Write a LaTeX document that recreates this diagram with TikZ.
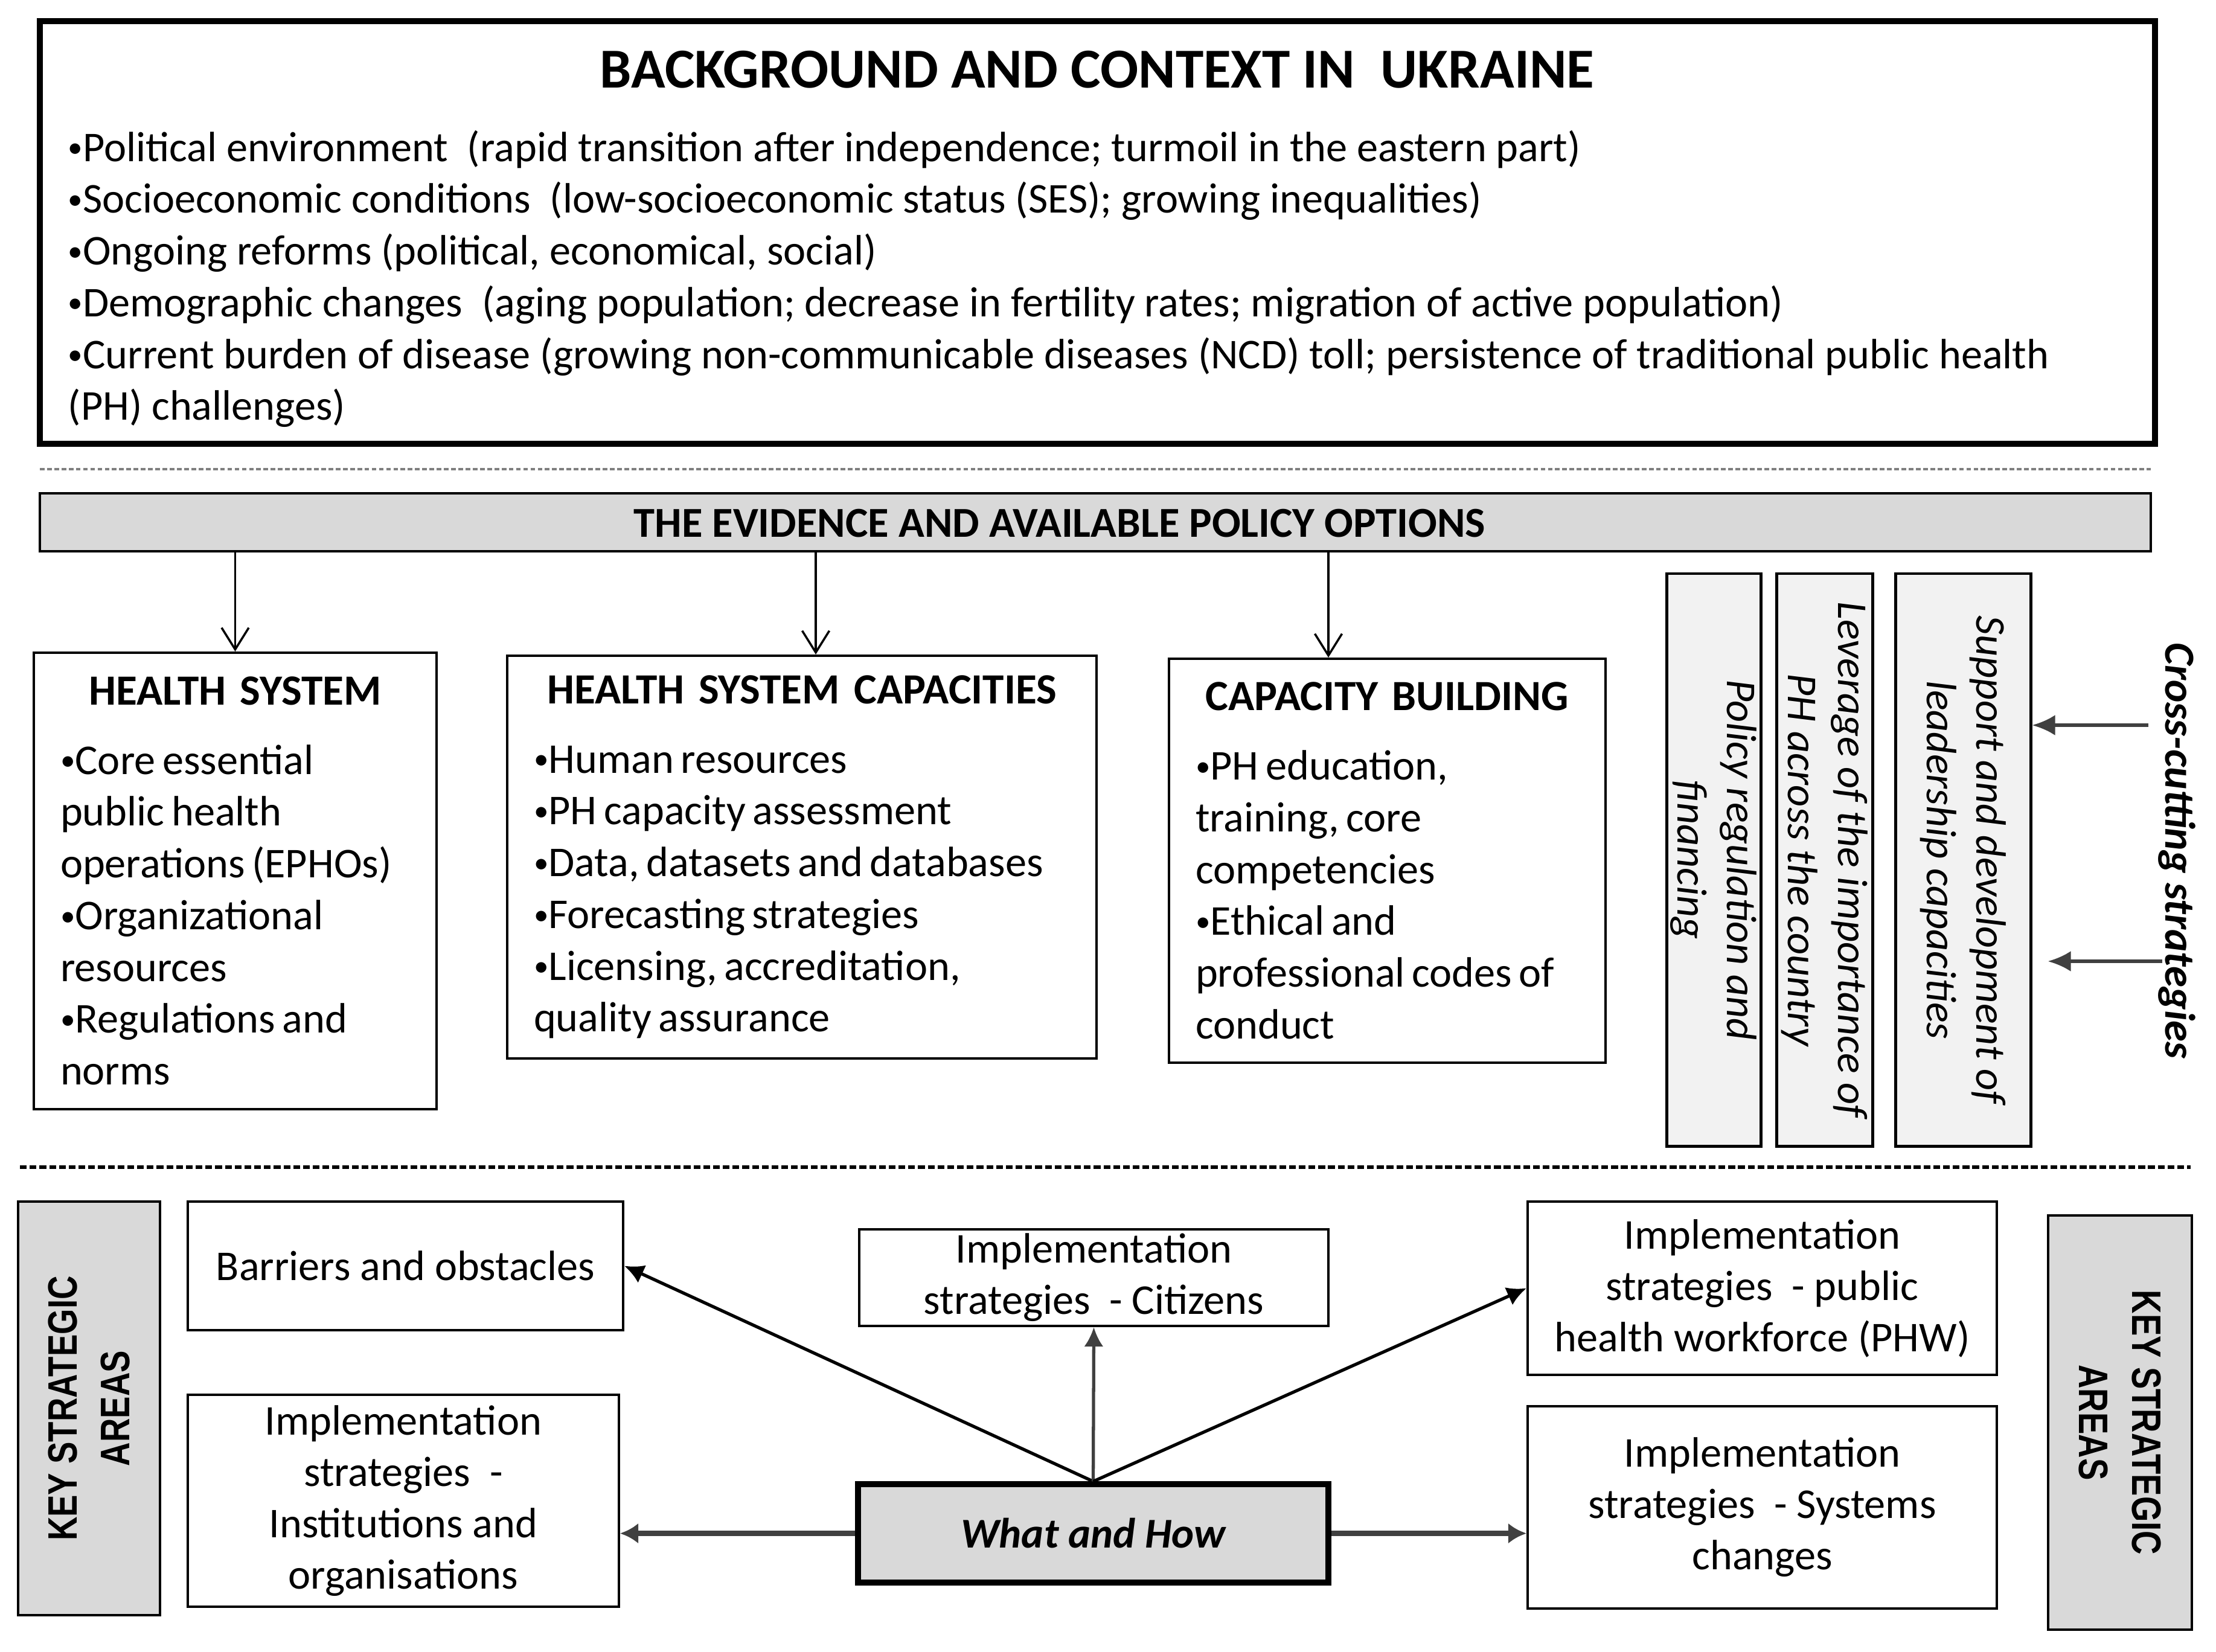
\documentclass[tikz,border=0pt]{standalone}
\usepackage{fontspec}
\setmainfont{Carlito}
\newfontfamily\ksafont[FakeStretch=0.8]{Liberation Sans}
\usetikzlibrary{arrows.meta,calc}
\newcommand\bodyf{\fontsize{20}{24.4}\selectfont}
\newcommand\headf{\fontsize{20.3}{24}\selectfont\bfseries}
\newcommand\bul{\raisebox{0.09em}{\scalebox{0.7}{•}}}
\definecolor{fillgray}{HTML}{D9D9D9}
\definecolor{lightgray2}{HTML}{F2F2F2}
\definecolor{arrgray}{HTML}{404040}
\tikzset{
  box/.style={draw=black, line width=1.2pt, inner sep=0pt, fill=white},
  listbox/.style={box, inner xsep=0.44cm, inner ysep=0pt},
  graybox/.style={draw=black, line width=1.2pt, fill=fillgray, inner sep=0pt},
  vbox/.style={draw=black, line width=1.4pt, fill=lightgray2, inner sep=0pt, rotate=-90, align=center,
     font=\fontsize{20}{23.5}\selectfont\itshape},
  bbox/.style={box, align=center, font=\fontsize{20}{24.2}\selectfont},
  ksa/.style={graybox, align=center, font=\ksafont\fontsize{19.4}{25}\selectfont\bfseries},
  downarr/.style={line width=1pt, -{Straight Barb[length=0.36cm,width=0.45cm,line width=1pt]}},
  diagarr/.style={line width=1.5pt, -{Latex[length=0.32cm,width=0.32cm]}},
  horarr/.style={line width=2.6pt, draw=arrgray, -{Latex[length=0.3cm,width=0.34cm]}},
  ccarr/.style={line width=1.6pt, draw=arrgray, -{Latex[length=0.38cm,width=0.34cm]}},
}
\begin{document}
\begin{tikzpicture}
\useasboundingbox (0,0) rectangle (36.70,-27.35);
\fill[white] (0,0) rectangle (36.70,-27.35);

% ---------- Background box ----------
\node[box, line width=2.6pt, minimum width=35.03cm, minimum height=7.00cm] (bg) at (18.175,-3.85) {};
\node[anchor=base, inner sep=0pt, font=\fontsize{26.6}{30}\selectfont\bfseries] (bgtitle) at (18.17,-1.45)
  {BACKGROUND AND CONTEXT IN\ \ UKRAINE};
\node[anchor=base west, inner sep=0pt, text width=34.11cm, align=flush left, font=\bodyf] (bgtext) at (1.12,-2.67) {%
  \bul Political environment\ \ (rapid transition after independence; turmoil in the eastern part)\\
  \bul Socioeconomic conditions\ \ (low-socioeconomic status (SES); growing inequalities)\\
  \bul Ongoing reforms (political, economical, social)\\
  \bul Demographic changes\ \ (aging population; decrease in fertility rates; migration of active population)\\
  \bul Current burden of disease (growing non-communicable diseases (NCD) toll; persistence of traditional public health\\
  (PH) challenges)};

\coordinate (d1a) at (0.66,-7.77);
\coordinate (d1b) at (35.62,-7.77);
\draw[gray, line width=1.4pt, dash pattern=on 2.2pt off 1.2pt] (d1a) -- (d1b);

% ---------- Evidence bar ----------
\node[graybox, minimum width=34.96cm, minimum height=0.96cm] (bar) at (18.14,-8.65) {};
\node[inner sep=0pt, font=\fontsize{20.1}{22}\selectfont\bfseries] (bartext) at (17.55,-8.67)
  {THE EVIDENCE AND AVAILABLE POLICY OPTIONS};

% ---------- Three boxes ----------
\node[listbox, text width=5.79cm, minimum height=7.56cm] (hs) at (3.895,-14.59) {%
  {\centering\headf HEALTH\ \ SYSTEM\par}\vspace{8.2pt}%
  \raggedright\bodyf
  \bul Core essential\\public health\\operations (EPHOs)\\\bul Organizational\\resources\\\bul Regulations and\\norms\par};

\node[listbox, text width=8.88cm, minimum height=6.67cm] (hsc) at (13.28,-14.195) {%
  {\centering\headf HEALTH\ \ SYSTEM\ \ CAPACITIES\par}\vspace{8.2pt}%
  \raggedright\bodyf
  \bul Human resources\\\bul PH capacity assessment\\\bul Data, datasets and databases\\\bul Forecasting strategies\\\bul Licensing, accreditation,\\quality assurance\par};

\node[listbox, text width=6.35cm, minimum height=6.69cm] (cb) at (22.975,-14.255) {%
  {\centering\headf CAPACITY\ \ BUILDING\par}\vspace{8.2pt}%
  \raggedright\bodyf
  \bul PH education,\\training, core\\competencies\\\bul Ethical and\\professional codes of\\conduct\par};

\draw[downarr] (hs.north |- bar.south) -- (hs.north);
\draw[downarr] ([xshift=0.23cm]hsc.north |- bar.south) -- ([xshift=0.23cm]hsc.north);
\draw[downarr] ([xshift=-0.975cm]cb.north |- bar.south) -- ([xshift=-0.975cm]cb.north);

% ---------- Vertical cross-cutting boxes ----------
\node[vbox, minimum width=9.48cm, minimum height=1.56cm] (vb1) at (28.38,-14.24) {Policy regulation and\\financing};
\node[vbox, minimum width=9.48cm, minimum height=1.59cm] (vb2) at (30.215,-14.24) {Leverage of the importance of\\PH across the country};
\node[vbox, minimum width=9.48cm, minimum height=2.24cm] (vb3) at (32.51,-14.24) {Support and development of\\leadership capacities};

\node[rotate=-90, inner sep=0pt, font=\fontsize{20.2}{22}\selectfont\bfseries\itshape] (cc) at (36.05,-14.09) {Cross-cutting strategies};

\coordinate (cca) at (35.58,-12.01);
\coordinate (ccb) at (35.81,-15.92);
\draw[ccarr] (cca) -- (cca -| vb3.north);
\draw[ccarr, shorten >=0.26cm] (ccb) -- (ccb -| vb3.north);

\coordinate (d2a) at (0.33,-19.33);
\coordinate (d2b) at (36.28,-19.33);
\draw[black, line width=1.6pt, dash pattern=on 3.2pt off 1.4pt] (d2a) -- (d2b);

% ---------- Key strategic areas ----------
\node[ksa, rotate=90, minimum width=6.85cm, minimum height=2.35cm] (ksal) at (1.475,-23.325) {KEY STRATEGIC\\AREAS};
\node[ksa, rotate=-90, minimum width=6.86cm, minimum height=2.38cm] (ksar) at (35.11,-23.56) {KEY STRATEGIC\\AREAS};

\node[bbox, minimum width=7.21cm, minimum height=2.13cm] (barr) at (6.715,-20.965) {Barriers and obstacles};
\node[bbox, minimum width=7.77cm, minimum height=1.60cm] (cit) at (18.115,-21.16) {Implementation\\strategies\ \ - Citizens};
\node[bbox, minimum width=7.77cm, minimum height=2.87cm] (phw) at (29.185,-21.335) {Implementation\\strategies\ \ - public\\health workforce (PHW)};
\node[bbox, minimum width=7.14cm, minimum height=3.51cm] (inst) at (6.68,-24.855) {Implementation\\strategies\ \ -\\Institutions and\\organisations};
\node[box, line width=2.6pt, fill=fillgray, minimum width=7.79cm, minimum height=1.63cm,
  font=\fontsize{20}{24}\selectfont\bfseries\itshape] (what) at (18.105,-25.395) {What and How};
\node[bbox, minimum width=7.77cm, minimum height=3.35cm] (sys) at (29.185,-24.965) {Implementation\\strategies\ \ - Systems\\changes};

\draw[diagarr] (what.north) -- (barr.east);
\draw[diagarr, draw=arrgray] (what.north) -- (cit.south);
\draw[diagarr] (what.north) -- (phw.west);
\draw[horarr] (what.west) -- (what.west -| inst.east);
\draw[horarr] (what.east) -- (what.east -| sys.west);
\end{tikzpicture}
\end{document}
